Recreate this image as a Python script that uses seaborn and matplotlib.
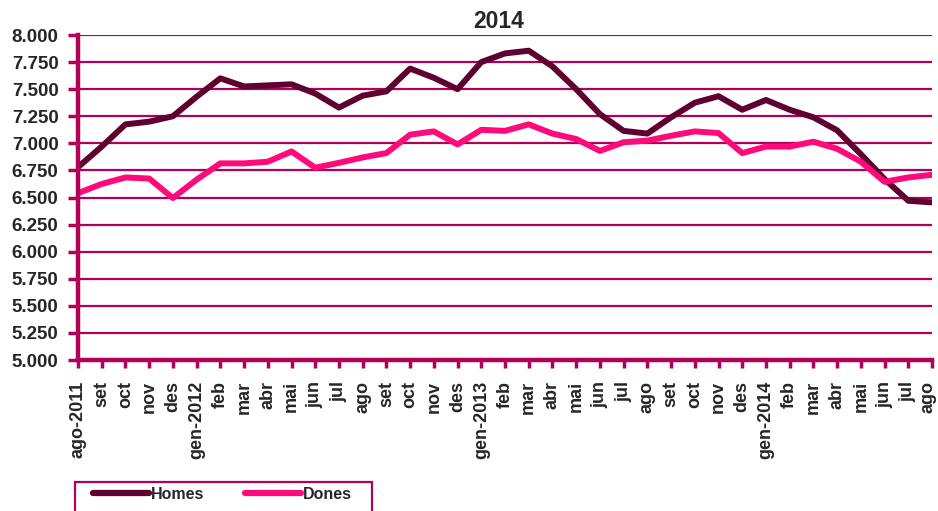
import numpy as np
import pandas as pd
import matplotlib
matplotlib.use("Agg")
import matplotlib.pyplot as plt
import matplotlib.transforms as mtransforms
from matplotlib.ticker import FuncFormatter, FixedLocator
from matplotlib.lines import Line2D
from matplotlib.patches import Rectangle
import seaborn as sns

months = ["ago-2011", "set", "oct", "nov", "des", "gen-2012", "feb", "mar", "abr",
          "mai", "jun", "jul", "ago", "set", "oct", "nov", "des", "gen-2013", "feb",
          "mar", "abr", "mai", "jun", "jul", "ago", "set", "oct", "nov", "des",
          "gen-2014", "feb", "mar", "abr", "mai", "jun", "jul", "ago"]

homes = [6780, 6970, 7175, 7200, 7250, 7430, 7600, 7525, 7535, 7545, 7460, 7330,
         7440, 7480, 7690, 7605, 7500, 7750, 7830, 7855, 7710, 7500, 7270, 7115,
         7090, 7240, 7375, 7435, 7310, 7400, 7310, 7240, 7120, 6900, 6670, 6470, 6455]

dones = [6540, 6625, 6685, 6675, 6495, 6665, 6815, 6815, 6830, 6925, 6775, 6820,
         6870, 6910, 7080, 7110, 6990, 7125, 7115, 7175, 7090, 7040, 6930, 7010,
         7025, 7070, 7110, 7095, 6910, 6970, 6970, 7015, 6950, 6830, 6645, 6685, 6710]

series_names = ["Homes", "Dones"]
title_text = "2014"

sns.set_style("white")
plt.rcParams["font.family"] = ["Liberation Sans", "DejaVu Sans"]
plt.rcParams["font.weight"] = "bold"

grid_c = "#B0005A"
palette = {"Homes": "#5E0030", "Dones": "#FF0A7A"}

df = pd.DataFrame({
    "x": list(range(len(months))) * 2,
    "valor": homes + dones,
    "serie": [series_names[0]] * len(homes) + [series_names[1]] * len(dones),
})

W, H = 938, 511
fig = plt.figure(figsize=(W / 100, H / 100), dpi=100)
ax = fig.add_axes([78 / W, 1 - 360 / H, (932 - 78) / W, (360 - 35) / H])

for v in np.arange(5000, 8001, 250):
    ax.axhline(v, color=grid_c, lw=1.6, zorder=1)

sns.lineplot(data=df, x="x", y="valor", hue="serie", palette=palette,
             hue_order=series_names, lw=4.3, ax=ax, legend=False, zorder=3,
             sort=False)

ax.set_xlim(0, len(months) - 1)
ax.set_ylim(5000, 8000)
ax.xaxis.set_major_locator(FixedLocator(range(len(months))))
ax.set_xticklabels(months, rotation=90, fontsize=13, fontweight="bold")
ax.yaxis.set_major_locator(FixedLocator(np.arange(5000, 8001, 250)))
ax.yaxis.set_major_formatter(FuncFormatter(lambda v, p: f"{int(v):,}".replace(",", ".")))
for lab in ax.get_yticklabels():
    lab.set_fontweight("bold")
ax.tick_params(axis="y", labelsize=13.5, length=7, width=2.5, color=grid_c, pad=7,
               direction="out", left=True)
ax.tick_params(axis="x", length=6, width=2.5, color=grid_c, pad=9,
               direction="out", bottom=True)
ax.set_xlabel("")
ax.set_ylabel("")

# keep the last month label inside the picture
last = ax.get_xticklabels()[-1]
last.set_transform(last.get_transform() +
                   mtransforms.ScaledTranslation(-4 / 100, 0, fig.dpi_scale_trans))

for s in ["top", "right"]:
    ax.spines[s].set_visible(False)
for s in ["left", "bottom"]:
    ax.spines[s].set_color(grid_c)
    ax.spines[s].set_linewidth(3.2)
    ax.spines[s].set_zorder(4)

fig.text(499 / W, 1 - 28 / H, title_text, ha="center", va="baseline",
         fontsize=16.5, fontweight="bold")

# legend box (extends past the bottom edge as in the reference)
fig.patches.append(Rectangle((75 / W, -0.02), (372 - 75) / W, 0.02 + (1 - 482 / H),
                             transform=fig.transFigure, fill=False,
                             edgecolor=grid_c, lw=1.6))
handles = [Line2D([0], [0], color=palette[n], lw=4.5, solid_capstyle="round")
           for n in series_names]
leg = fig.legend(handles, series_names, loc="upper left",
                 bbox_to_anchor=(93 / W, 1 - 487 / H), ncol=2,
                 prop={"size": 11.5, "weight": "bold"}, frameon=False,
                 handlelength=3.5, handletextpad=0.1, columnspacing=2.6,
                 borderpad=0.0, borderaxespad=0.0)

fig.savefig("out.png", dpi=100)
